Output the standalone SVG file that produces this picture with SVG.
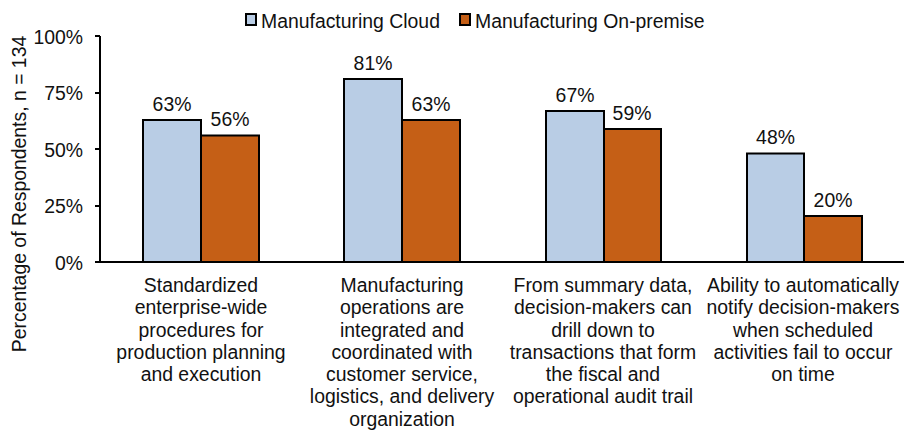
<svg xmlns="http://www.w3.org/2000/svg" width="904" height="433" viewBox="0 0 904 433">
<style>
text{font-family:"Liberation Sans",Arial,sans-serif;font-size:19.4px;fill:#111}
.c{fill:#B9CDE5;stroke:#000;stroke-width:2}
.o{fill:#C55F16;stroke:#000;stroke-width:2}
.ax{stroke:#000;stroke-width:2;fill:none}
.t{text-anchor:end}
.m{text-anchor:middle}
</style>
<rect width="904" height="433" fill="#fff"/>
<g id="legend">
<rect class="c" x="246" y="14" width="10" height="11"/>
<text x="261" y="28">Manufacturing Cloud</text>
<rect class="o" x="460" y="14" width="10" height="11"/>
<text x="475" y="28">Manufacturing On-premise</text>
</g>
<g id="axes">
<path class="ax" d="M100 36V262M95 262H904M95 36H100M95 93H100M95 149H100M95 206H100"/>
<text class="t" x="83" y="44">100%</text>
<text class="t" x="83" y="100">75%</text>
<text class="t" x="83" y="157">50%</text>
<text class="t" x="83" y="213">25%</text>
<text class="t" x="83" y="270">0%</text>
<text class="m" transform="translate(26,194) rotate(-90)">Percentage of Respondents, n = 134</text>
</g>
<g id="g1">
<rect class="c" x="143" y="120" width="58" height="142"/>
<rect class="o" x="201" y="135.5" width="58" height="126.5"/>
<text class="m" x="172" y="110.5">63%</text>
<text class="m" x="230" y="126">56%</text>
<text class="m" x="201" y="292">Standardized</text>
<text class="m" x="201" y="314">enterprise-wide</text>
<text class="m" x="201" y="336.5">procedures for</text>
<text class="m" x="201" y="358.5">production planning</text>
<text class="m" x="201" y="381">and execution</text>
</g>
<g id="g2">
<rect class="c" x="344" y="79" width="58" height="183"/>
<rect class="o" x="402" y="120" width="58" height="142"/>
<text class="m" x="373" y="69.5">81%</text>
<text class="m" x="431" y="110.5">63%</text>
<text class="m" x="402" y="292">Manufacturing</text>
<text class="m" x="402" y="314">operations are</text>
<text class="m" x="402" y="336.5">integrated and</text>
<text class="m" x="402" y="358.5">coordinated with</text>
<text class="m" x="402" y="381">customer service,</text>
<text class="m" x="402" y="403">logistics, and delivery</text>
<text class="m" x="402" y="425.5">organization</text>
</g>
<g id="g3">
<rect class="c" x="546" y="111" width="58" height="151"/>
<rect class="o" x="604" y="129" width="57" height="133"/>
<text class="m" x="575" y="101.5">67%</text>
<text class="m" x="632" y="119.5">59%</text>
<text class="m" x="603" y="292">From summary data,</text>
<text class="m" x="603" y="314">decision-makers can</text>
<text class="m" x="603" y="336.5">drill down to</text>
<text class="m" x="603" y="358.5">transactions that form</text>
<text class="m" x="603" y="381">the fiscal and</text>
<text class="m" x="603" y="403">operational audit trail</text>
</g>
<g id="g4">
<rect class="c" x="747" y="153.5" width="57" height="108.5"/>
<rect class="o" x="804" y="216" width="58" height="46"/>
<text class="m" x="775.5" y="144">48%</text>
<text class="m" x="833" y="206.5">20%</text>
<text class="m" x="803" y="292">Ability to automatically</text>
<text class="m" x="803" y="314">notify decision-makers</text>
<text class="m" x="803" y="336.5">when scheduled</text>
<text class="m" x="803" y="358.5">activities fail to occur</text>
<text class="m" x="803" y="381">on time</text>
</g>
</svg>
